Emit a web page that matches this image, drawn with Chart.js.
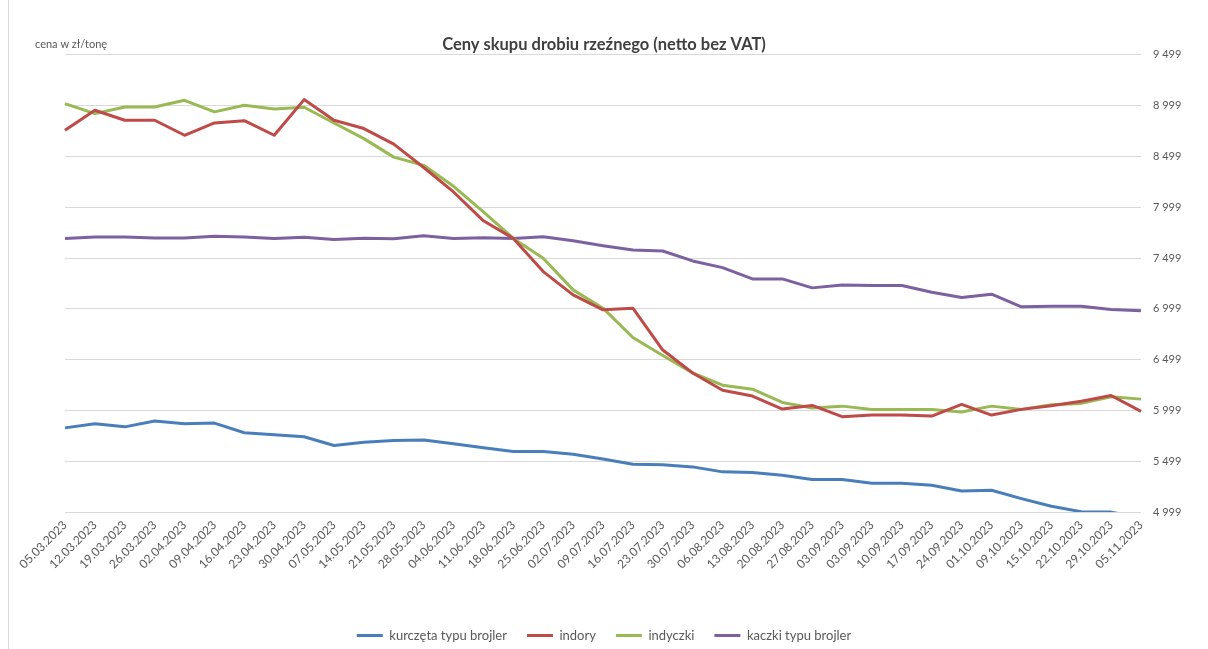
<!DOCTYPE html>
<html>
<head>
<meta charset="utf-8">
<script src="https://cdn.jsdelivr.net/npm/chart.js@4/dist/chart.umd.min.js"></script>
<style>
    html, body { margin: 0; padding: 0; background: #fff; }
    #wrap { width: 1208px; height: 649px; position: relative; }
</style>
</head>
<body>
<div id="wrap"><canvas id="drobiuChart"></canvas></div>
<script>
// daty notowań (tygodniowe)
const weeks = ['05.03.2023', '12.03.2023', '19.03.2023', '26.03.2023', '02.04.2023', '09.04.2023',
    '16.04.2023', '23.04.2023', '30.04.2023', '07.05.2023', '14.05.2023', '21.05.2023', '28.05.2023',
    '04.06.2023', '11.06.2023', '18.06.2023', '25.06.2023', '02.07.2023', '09.07.2023', '16.07.2023',
    '23.07.2023', '30.07.2023', '06.08.2023', '13.08.2023', '20.08.2023', '27.08.2023', '03.09.2023',
    '03.09.2023', '10.09.2023', '17.09.2023', '24.09.2023', '01.10.2023', '09.10.2023', '15.10.2023',
    '22.10.2023', '29.10.2023', '05.11.2023'];

const kurczeta = [5827, 5867, 5837, 5894, 5867, 5874, 5779, 5759, 5739, 5654, 5685, 5702, 5708,
    5671, 5631, 5594, 5594, 5567, 5520, 5469, 5463, 5443, 5394, 5387, 5361, 5318, 5318,
    5282, 5282, 5262, 5206, 5213, 5131, 5055, 5002, 4998, 4940];

const indory = [8756, 8953, 8855, 8855, 8707, 8828, 8851, 8707, 9058, 8855, 8773, 8620, 8390,
    8149, 7865, 7692, 7365, 7136, 6989, 7005, 6593, 6367, 6197, 6140, 6012, 6048, 5937,
    5953, 5953, 5943, 6058, 5953, 6009, 6045, 6090, 6146, 5989];

const indyczki = [9019, 8920, 8986, 8986, 9051, 8937, 9002, 8966, 8983, 8828, 8674, 8492, 8411,
    8205, 7953, 7692, 7496, 7185, 7005, 6716, 6540, 6367, 6247, 6208, 6077, 6022, 6041,
    6009, 6009, 6009, 5983, 6041, 6009, 6055, 6068, 6133, 6110];

const kaczki = [7690, 7706, 7706, 7696, 7696, 7713, 7706, 7690, 7703, 7680, 7693, 7689, 7718,
    7692, 7698, 7692, 7708, 7669, 7620, 7577, 7568, 7470, 7404, 7293, 7293, 7205, 7234,
    7228, 7228, 7162, 7110, 7143, 7019, 7025, 7025, 6992, 6979];

const yTicks = [4999, 5499, 5999, 6499, 6999, 7499, 7999, 8499, 8999, 9499];

Chart.defaults.font.family = 'Lato, "Open Sans", sans-serif';
Chart.defaults.color = '#595959';

function spaced(v) {
    return String(v).replace(/\B(?=(\d{3})+(?!\d))/g, ' ');
}

function serie(label, data, color) {
    return {
        label: label,
        data: data,
        borderColor: color,
        backgroundColor: color,
        borderWidth: 3,
        pointRadius: 0,
        pointHoverRadius: 0,
        tension: 0,
        borderJoinStyle: 'round',
        fill: false,
        yAxisID: 'y'
    };
}

// tło, ramka i opis osi
const decorPlugin = {
    id: 'decor',
    beforeDraw(chart) {
        const c = chart.ctx;
        c.save();
        c.fillStyle = '#ffffff';
        c.fillRect(0, 0, chart.width, chart.height);
        c.strokeStyle = '#d9d9d9';
        c.lineWidth = 1;
        c.beginPath();
        c.moveTo(8.5, 0);
        c.lineTo(8.5, chart.height);
        c.stroke();
        c.restore();
    },
    afterDraw(chart) {
        const c = chart.ctx;
        c.save();
        c.fillStyle = '#595959';
        c.font = '11px Lato, "Open Sans", sans-serif';
        c.textBaseline = 'middle';
        c.textAlign = 'left';
        c.fillText('cena w zł/tonę', 35, 44);
        c.restore();
    }
};

const ctx = document.getElementById('drobiuChart').getContext('2d');
const drobiuChart = new Chart(ctx, {
    type: 'line',
    data: {
        labels: weeks,
        datasets: [
            serie('kurczęta typu brojler', kurczeta, '#4a7ebb'),
            serie('indory', indory, '#be4b48'),
            serie('indyczki', indyczki, '#98b954'),
            serie('kaczki typu brojler', kaczki, '#7d60a0')
        ]
    },
    options: {
        responsive: true,
        maintainAspectRatio: false,
        animation: false,
        layout: { padding: { left: 0, right: 0, top: 0, bottom: 0 } },
        plugins: {
            title: {
                display: true,
                text: 'Ceny skupu drobiu rzeźnego (netto bez VAT)',
                color: '#404040',
                font: { size: 16.5, weight: 'bold' },
                padding: { top: 35, bottom: 0 }
            },
            legend: {
                position: 'bottom',
                maxHeight: 40,
                labels: {
                    usePointStyle: true,
                    pointStyle: 'line',
                    pointStyleWidth: 26,
                    padding: 20,
                    color: '#595959',
                    font: { size: 13 }
                }
            },
            tooltip: { enabled: false }
        },
        scales: {
            x: {
                offset: false,
                grid: { display: false, drawTicks: false },
                border: { display: false },
                ticks: {
                    autoSkip: false,
                    minRotation: 45,
                    maxRotation: 45,
                    padding: 6,
                    color: '#595959',
                    font: { size: 12 }
                },
                afterFit(scale) { scale.height = 97; }
            },
            y: {
                position: 'right',
                min: 4999,
                max: 9499,
                afterBuildTicks(scale) {
                    scale.ticks = yTicks.map(v => ({ value: v }));
                },
                grid: { color: '#d9d9d9', lineWidth: 1, drawTicks: false },
                border: { display: false },
                ticks: {
                    padding: 12,
                    color: '#595959',
                    font: { size: 11 },
                    callback: v => spaced(v)
                },
                afterFit(scale) { scale.width = 67; }
            },
            yl: {
                position: 'left',
                display: true,
                grid: { display: false },
                border: { display: false },
                ticks: { display: false },
                afterFit(scale) { scale.width = 65; }
            }
        }
    },
    plugins: [decorPlugin]
});
</script>
</body>
</html>
